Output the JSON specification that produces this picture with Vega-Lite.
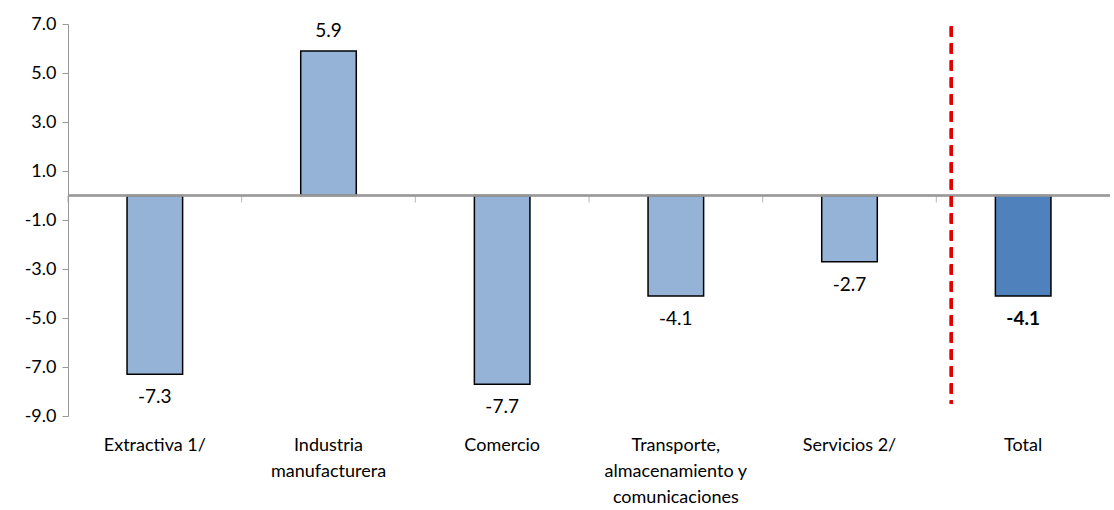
{
  "$schema": "https://vega.github.io/schema/vega-lite/v6.json",
  "autosize": "none",
  "padding": {"left": 68, "top": 24, "right": 4, "bottom": 94},
  "width": 1042,
  "height": 392,
  "config": {"view": {"stroke": null}, "font": "Lato", "axis": {"labelFont": "Lato", "labelFontSize": 18, "labelColor": "black"}},
  "data": {"values": [
    {"cat": "Extractiva 1/", "v": -7.3, "total": false},
    {"cat": "Industria|manufacturera", "v": 5.9, "total": false},
    {"cat": "Comercio", "v": -7.7, "total": false},
    {"cat": "Transporte,|almacenamiento y|comunicaciones", "v": -4.1, "total": false},
    {"cat": "Servicios 2/", "v": -2.7, "total": false},
    {"cat": "Total", "v": -4.1, "total": true}
  ]},
  "transform": [{"calculate": "replace(format(datum.v, '.1f'), '\u2212', '-')", "as": "lbl"}],
  "encoding": {
    "x": {"field": "cat", "type": "nominal", "sort": null, "title": null,
      "scale": {"paddingInner": 0, "paddingOuter": 0},
      "axis": {"orient": "bottom", "domain": false, "ticks": false, "labelAngle": 0, "labelPadding": 20, "labelLineHeight": 26,
        "labelExpr": "split(datum.value, '|')"}}
  },
  "layer": [
    {
      "mark": {"type": "bar", "width": {"band": 0.32}, "stroke": "black", "strokeWidth": 1.5},
      "encoding": {
        "y": {"field": "v", "type": "quantitative", "title": null,
          "scale": {"domain": [-9, 7], "nice": false},
          "axis": {"values": [-9, -7, -5, -3, -1, 1, 3, 5, 7], "format": ".1f", "labelExpr": "replace(datum.label, '\u2212', '-')", "grid": false, "domainColor": "#999", "tickColor": "#999", "tickSize": 6, "labelPadding": 6}},
        "color": {"field": "total", "type": "nominal", "legend": null,
          "scale": {"domain": [false, true], "range": ["#95B3D7", "#4F81BD"]}}
      }
    },
    {
      "mark": {"type": "rule", "color": "#999", "strokeWidth": 1.5},
      "encoding": {"y": {"datum": 0}, "x": null}
    },
    {
      "mark": {"type": "tick", "orient": "vertical", "color": "#999", "size": 7, "yOffset": 3.5},
      "encoding": {"x": {"field": "cat", "type": "nominal", "sort": null, "bandPosition": 0}, "y": {"datum": 0}}
    },
    {
      "mark": {"type": "rule", "color": "#E00000", "strokeWidth": 3, "strokeDash": [10, 7], "xOffset": 15},
      "encoding": {"x": {"datum": "Total", "bandPosition": 0}, "y": {"datum": 6.9}, "y2": {"datum": -8.5}}
    },
    {
      "transform": [{"filter": "datum.v > 0"}],
      "mark": {"type": "text", "fontSize": 19, "font": "Lato", "dy": -20},
      "encoding": {"y": {"field": "v", "type": "quantitative"}, "text": {"field": "lbl"}}
    },
    {
      "transform": [{"filter": "datum.v < 0 && !datum.total"}],
      "mark": {"type": "text", "fontSize": 19, "font": "Lato", "dy": 23},
      "encoding": {"y": {"field": "v", "type": "quantitative"}, "text": {"field": "lbl"}}
    },
    {
      "transform": [{"filter": "datum.total"}],
      "mark": {"type": "text", "fontSize": 19, "font": "Lato", "fontWeight": "bold", "dy": 23},
      "encoding": {"y": {"field": "v", "type": "quantitative"}, "text": {"field": "lbl"}}
    }
  ]
}
